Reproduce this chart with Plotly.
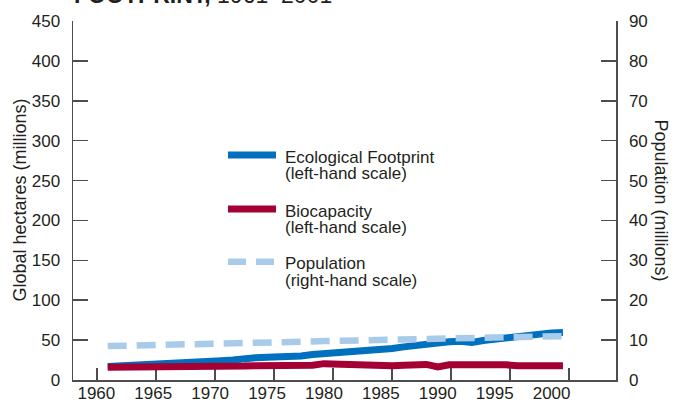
import plotly.graph_objects as go

years = list(range(1961, 2002))
footprint = [17, 17.5, 18.5, 19.5, 20, 20.5, 21, 21.5, 22.5, 23,
             24, 25, 27, 28, 28.5, 28.5, 29, 30, 32, 33,
             33.5, 33.5, 35.5, 36.5, 38, 39.5, 41.5, 43.5, 46, 47,
             48, 48.5, 47, 49.5, 51.5, 52.5, 54.5, 56, 57.5, 59, 59.5]
biocapacity = [16, 16, 16.5, 16.5, 17, 17, 17, 15.5, 16.5, 17,
               17, 17, 17.5, 18, 18, 17.5, 16.5, 17.5, 18.5, 20.5,
               20, 19, 18, 18, 18.5, 18, 18.5, 19.5, 19.5, 16.5,
               19, 19, 19, 19.5, 20.5, 19, 18, 17.5, 17.5, 18, 18]
population = [8.5, 8.55, 8.6, 8.65, 8.7, 8.75, 8.8, 8.8, 8.85, 8.85,
              8.9, 8.95, 9.0, 9.05, 9.1, 9.3, 9.4, 9.5, 9.65, 9.75,
              9.8, 9.85, 9.9, 9.95, 10.0, 10.1, 10.15, 10.25, 10.35, 10.45,
              10.5, 10.55, 10.6, 10.65, 10.7, 10.75, 10.8, 10.85, 10.9, 10.95, 11.0]

x_ticks = list(range(1960, 2001, 5))
left_ticks = list(range(0, 451, 50))
right_ticks = list(range(0, 91, 10))

BLUE = "#0070bf"
RED = "#a50034"
LIGHT = "#a9cbea"
TXT = "#231f20"
AX = "#4d4d4d"
FONT = "Liberation Sans, Arial, sans-serif"

W, H = 680, 403
L, R, T, B = 73, 64, 21, 23
PW, PH = W - L - R, H - T - B


def px(x):
    return (x - L) / PW


def py(y):
    return (H - B - y) / PH


fig = go.Figure()
fig.add_trace(go.Scatter(x=years, y=population, yaxis="y2", mode="lines",
                         line=dict(color=LIGHT, width=6.5, dash="19px,10px"),
                         showlegend=False))
fig.add_trace(go.Scatter(x=years, y=footprint, mode="lines",
                         line=dict(color=BLUE, width=7), showlegend=False))
fig.add_trace(go.Scatter(x=years, y=biocapacity, mode="lines",
                         line=dict(color=RED, width=7), showlegend=False))
# dummy trace so the tick-only x axis is drawn
fig.add_trace(go.Scatter(x=[1960], y=[None], xaxis="x2", showlegend=False,
                         hoverinfo="skip"))

axis_common = dict(showgrid=False, zeroline=False, linecolor=AX, linewidth=1.5,
                   tickcolor=AX, tickwidth=1.5, automargin=False,
                   tickfont=dict(family=FONT, size=17, color=TXT))

fig.update_layout(
    width=W, height=H,
    margin=dict(l=L, r=R, t=T, b=B, pad=0, autoexpand=False),
    paper_bgcolor="white", plot_bgcolor="white",
    font=dict(family=FONT, color=TXT),
    xaxis=dict(range=[1957.95, 2005.66], tickvals=x_ticks, ticks="",
               showline=True, ticklabelstandoff=-3, **axis_common),
    xaxis2=dict(range=[1957.97, 2003.98], tickvals=x_ticks, ticks="inside",
                ticklen=12, showticklabels=False, showline=False,
                overlaying="x", anchor="y", side="bottom", layer="below traces",
                showgrid=False, zeroline=False, tickcolor=AX, tickwidth=1.5,
                automargin=False),
    yaxis=dict(range=[0, 450], tickvals=left_ticks, ticks="inside", ticklen=15,
               showline=True, ticklabelstandoff=8, **axis_common),
    yaxis2=dict(range=[0, 90], tickvals=right_ticks, ticks="inside", ticklen=15,
                showline=True, overlaying="y", side="right", anchor="x",
                ticklabelstandoff=8, **axis_common),
)

ann = []
ann.append(dict(text="<b>FOOTPRINT,</b> 1961–2001", x=px(72), y=py(10),
                xref="paper", yref="paper", xanchor="left", yanchor="bottom",
                showarrow=False, font=dict(family=FONT, size=23, color=TXT)))
ann.append(dict(text="Global hectares (millions)", x=px(19), y=0.5, textangle=-90,
                xref="paper", yref="paper", xanchor="center", yanchor="middle",
                showarrow=False, font=dict(family=FONT, size=18, color=TXT)))
ann.append(dict(text="Population (millions)", x=px(661), y=0.5, textangle=90,
                xref="paper", yref="paper", xanchor="center", yanchor="middle",
                showarrow=False, font=dict(family=FONT, size=18, color=TXT)))

legend_items = [
    ("Ecological Footprint", "(left-hand scale)", BLUE, "solid", 155, 157, 173.5),
    ("Biocapacity", "(left-hand scale)", RED, "solid", 209, 211, 227.5),
    ("Population", "(right-hand scale)", LIGHT, "18px,10px", 261.7, 263.5, 280),
]
shapes = []
for t1, t2, col, dash, ly, y1, y2 in legend_items:
    shapes.append(dict(type="line", xref="paper", yref="paper",
                       x0=px(228), x1=px(276), y0=py(ly), y1=py(ly),
                       line=dict(color=col, width=7 if dash == "solid" else 6.5, dash=dash)))
    for t, yy in ((t1, y1), (t2, y2)):
        ann.append(dict(text=t, x=px(283), y=py(yy), xref="paper", yref="paper",
                        xanchor="left", yanchor="middle", showarrow=False,
                        font=dict(family=FONT, size=17, color=TXT)))

fig.update_layout(annotations=ann, shapes=shapes)
fig.write_html("out.html", config={"displayModeBar": False, "staticPlot": True},
               post_script="document.body.style.margin='0';document.body.style.overflow='hidden';")
